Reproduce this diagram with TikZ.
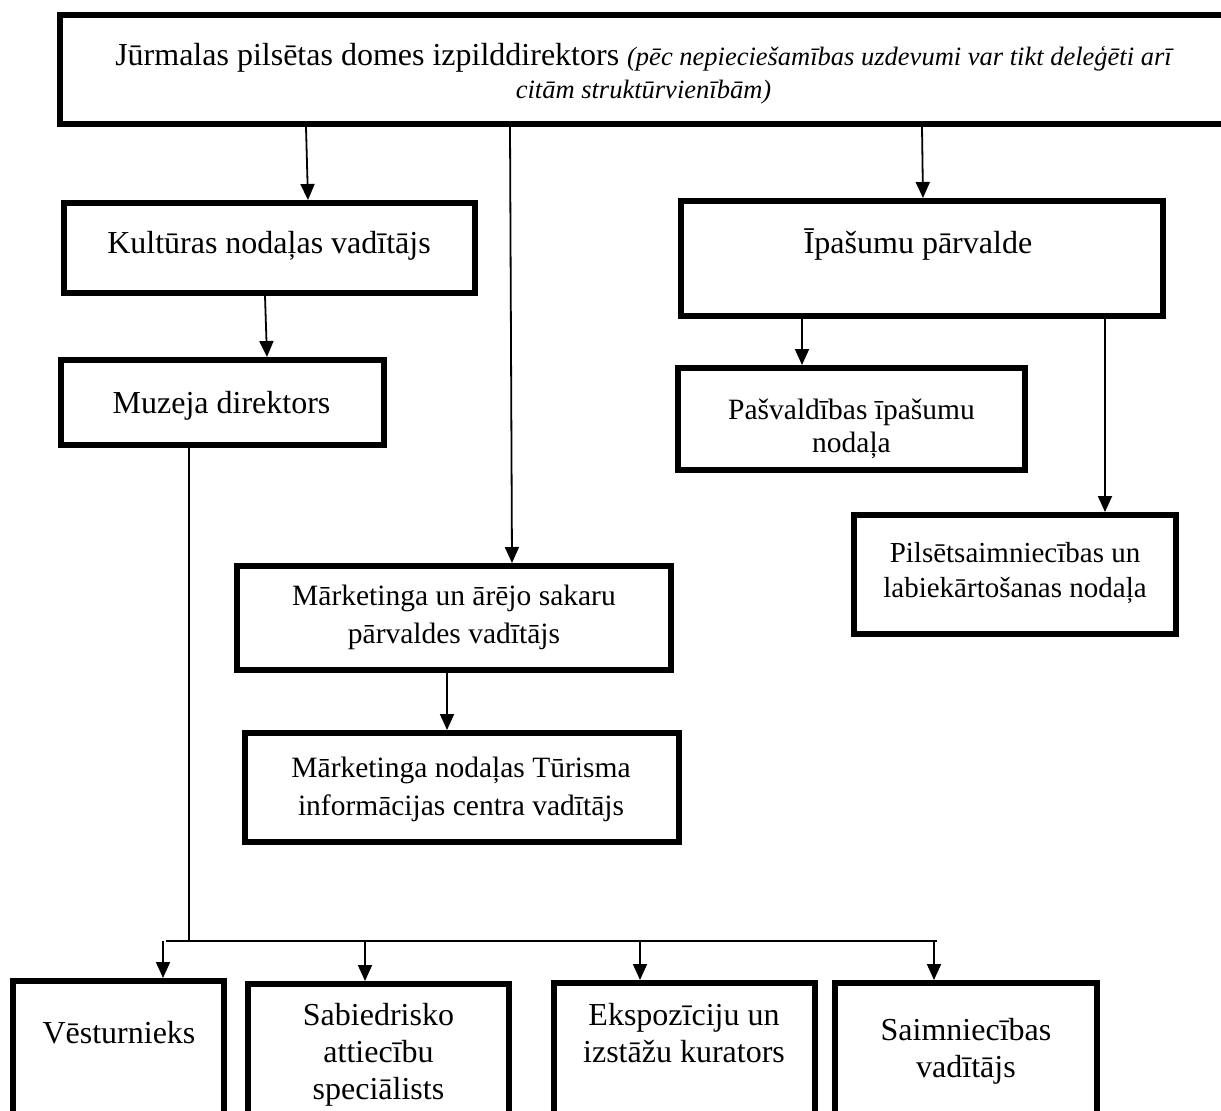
\documentclass[tikz,border=0pt]{standalone}
\usepackage{fontspec}
\setmainfont{Liberation Serif}
\usetikzlibrary{arrows.meta}
\begin{document}
\begin{tikzpicture}[x=1pt,y=-1pt,
  box/.style={draw, line width=6pt, inner sep=0pt},
  conn/.style={line width=1.8pt},
  arr/.style={conn, -{Triangle[length=16pt,width=14pt]}},
  big/.style={font=\fontsize{32}{37}\selectfont, align=center, inner sep=0pt, anchor=base},
  med/.style={font=\fontsize{29.5}{36}\selectfont, align=center, inner sep=0pt, anchor=base},
]
\useasboundingbox (0,0) rectangle (1221,1111);
\fill[white] (0,0) rectangle (1221,1111);

% boxes
\node[box, minimum width=1172pt, minimum height=109pt] (top) at (646,69.5) {};
\node[box, minimum width=411pt, minimum height=90pt] (kult) at (269.5,248) {};
\node[box, minimum width=323pt, minimum height=85pt] (muz) at (222.5,402.5) {};
\node[box, minimum width=482pt, minimum height=115pt] (ipas) at (922,258.5) {};
\node[box, minimum width=347pt, minimum height=102pt] (pasv) at (851.5,419) {};
\node[box, minimum width=322pt, minimum height=119pt] (pils) at (1015,574.5) {};
\node[box, minimum width=434pt, minimum height=104pt] (mark) at (454,618) {};
\node[box, minimum width=434pt, minimum height=109pt] (tur) at (462,787.5) {};
\node[box, minimum width=211pt, minimum height=146pt] (vest) at (118.5,1054) {};
\node[box, minimum width=261pt, minimum height=143pt] (sab) at (378.5,1055.5) {};
\node[box, minimum width=261pt, minimum height=144pt] (eks) at (684.5,1055) {};
\node[box, minimum width=262pt, minimum height=144pt] (saim) at (966,1055) {};

% texts (anchor=base of a multi-line node = baseline of its last line)
\node[big, font=\fontsize{32}{33}\selectfont] (top-t) at (643.5,98) {Jūrmalas pilsētas domes izpilddirektors {\fontsize{26.5}{33}\selectfont\itshape (pēc nepieciešamības uzdevumi var tikt deleģēti arī}\\{\fontsize{26.5}{33}\selectfont\itshape citām struktūrvienībām)}};
\node[big] (kult-t) at (269,253) {Kultūras nodaļas vadītājs};
\node[big] (muz-t) at (221.5,413) {Muzeja direktors};
\node[big] (ipas-t) at (918,253) {Īpašumu pārvalde};
\node[med, font=\fontsize{29.5}{33}\selectfont] (pasv-t) at (851.5,452) {Pašvaldības īpašumu\\nodaļa};
\node[med, font=\fontsize{29}{35}\selectfont] (pils-t) at (1015,597) {Pilsētsaimniecības un\\labiekārtošanas nodaļa};
\node[med, font=\fontsize{29.5}{38}\selectfont] (mark-t) at (454,643) {Mārketinga un ārējo sakaru\\pārvaldes vadītājs};
\node[med, font=\fontsize{29.5}{38}\selectfont] (tur-t) at (461,815) {Mārketinga nodaļas Tūrisma\\informācijas centra vadītājs};
\node[big] (vest-t) at (119,1043) {Vēsturnieks};
\node[big] (sab-t) at (378.5,1099) {Sabiedrisko\\attiecību\\speciālists};
\node[big] (eks-t) at (684,1062) {Ekspozīciju un\\izstāžu kurators};
\node[big] (saim-t) at (966,1077) {Saimniecības\\vadītājs};

% connector x positions
\coordinate (c1) at (306,0); \coordinate (c1b) at (308,0);
\coordinate (c2) at (510,0); \coordinate (c2b) at (512,0);
\coordinate (c3) at (922,0); \coordinate (c3b) at (923,0);
\coordinate (c4) at (265,0); \coordinate (c4b) at (267,0);
\coordinate (c5) at (447,0);
\coordinate (c6) at (802,0);
\coordinate (c7) at (1105,0);
\coordinate (c8) at (189,0);
\coordinate (busL) at (166,941);
\coordinate (busR) at (937,941);
\coordinate (d1) at (163,0);
\coordinate (d2) at (365,0);
\coordinate (d3) at (640,0);
\coordinate (d4) at (934,0);

\draw[arr] (top.south -| c1) -- (kult.north -| c1b);
\draw[arr] (top.south -| c2) -- (mark.north -| c2b);
\draw[arr] (top.south -| c3) -- (ipas.north -| c3b);
\draw[arr] (kult.south -| c4) -- (muz.north -| c4b);
\draw[arr] (mark.south -| c5) -- (tur.north -| c5);
\draw[arr] (ipas.south -| c6) -- (pasv.north -| c6);
\draw[arr] (ipas.south -| c7) -- (pils.north -| c7);
\draw[conn] (muz.south -| c8) -- (busL -| c8);
\draw[conn] (busL) -- (busR);
\draw[arr] (busL -| d1) -- (vest.north -| d1);
\draw[arr] (busL -| d2) -- (sab.north -| d2);
\draw[arr] (busL -| d3) -- (eks.north -| d3);
\draw[arr] (busL -| d4) -- (saim.north -| d4);
\end{tikzpicture}
\end{document}
